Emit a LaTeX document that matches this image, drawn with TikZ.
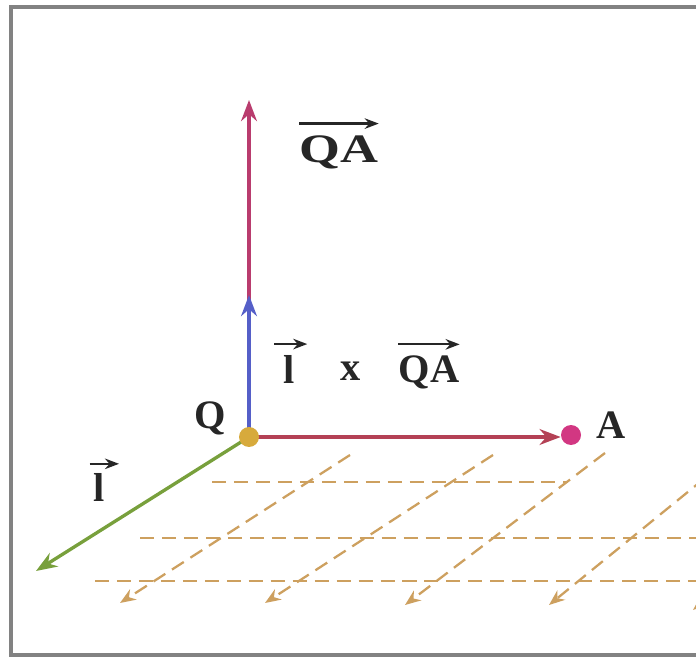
\documentclass[tikz,border=0pt]{standalone}
\usepackage{fontspec}
\setmainfont{Liberation Serif}
\usetikzlibrary{arrows.meta}

\definecolor{rossoV}{RGB}{185,60,110}
\definecolor{rossoH}{RGB}{180,65,85}
\definecolor{bluV}{RGB}{85,95,200}
\definecolor{verdeL}{RGB}{120,160,60}
\definecolor{oroQ}{RGB}{215,170,60}
\definecolor{rosaA}{RGB}{210,55,130}
\definecolor{griglia}{RGB}{205,160,95}
\definecolor{cornice}{RGB}{130,130,130}

\begin{document}
\begin{tikzpicture}[x=0.02cm, y=-0.02cm,
    etich/.style={font=\fontsize{23}{27}\selectfont\bfseries, inner sep=0pt, anchor=base, black!85},
    vett/.style={-{Stealth[length=12pt, width=9pt]}, line width=1.9pt},
    sopra/.style={-{Stealth[length=8pt, width=6pt]}, line width=1.3pt, black!85},
    tratt/.style={dash pattern=on 8pt off 4.5pt, line width=1.3pt, griglia},
    punto/.style={circle, inner sep=0pt, minimum size=0.4cm}]
    \useasboundingbox (0,0) rectangle (696,658);
    \clip (0,0) rectangle (696,658);

    % Cornice
    \draw[cornice, line width=1.8pt] (700,7) -- (11,7) -- (11,655) -- (700,655);

    % Piano tratteggiato (righe orizzontali)
    \draw[tratt] (212,482) -- (567,482);
    \draw[tratt] (140,538) -- (720,538);
    \draw[tratt] (95,581) -- (720,581);

    % Piano tratteggiato (righe oblique, parallele a l)
    \draw[tratt, -{Stealth[length=9pt, width=7pt]}] (350,455) -- (120,603);
    \draw[tratt, -{Stealth[length=9pt, width=7pt]}] (493,455) -- (265,603);
    \draw[tratt, -{Stealth[length=9pt, width=7pt]}] (605,453) -- (405,605);
    \draw[tratt, -{Stealth[length=9pt, width=7pt]}] (705,478) -- (549,605);
    \draw[tratt, -{Stealth[length=9pt, width=7pt]}] (800,520) -- (693,610);

    % Punti Q e A
    \coordinate (Q) at (249,437);
    \coordinate (Vtop) at (249,100);
    \coordinate (Btop) at (249,295);
    \coordinate (Ltip) at (36,571);

    % Vettore QA x l (verticale) e vettore l x QA (blu)
    \draw[vett, rossoV] (Q) -- (Vtop);
    \draw[vett, bluV] (Q) -- (Btop);

    % Vettore l (verde)
    \draw[vett, verdeL] (Q) -- (Ltip);

    % Vettore QA (orizzontale)
    \node[punto, fill=rosaA] (A) at (571,435) {};
    \draw[vett, rossoH] (Q) -- (Q -| A.west);
    \node[punto, fill=oroQ] (Qdot) at (Q) {};

    % Etichette
    \node[etich] (labQ) at (210,428) {Q};
    \node[etich] (labA) at (611,438) {A};

    \node[etich] (topQA) at (339,163) {\scalebox{1.3}[1]{QA}};
    \draw[sopra] ([yshift=7pt]topQA.north west) -- ([yshift=7pt]topQA.north east);

    \node[etich] (midL) at (289,383) {l};
    \draw[sopra] ([shift={(-5pt,6pt)}]midL.north west) -- ([shift={(7pt,6pt)}]midL.north east);
    \node[etich] (per) at (351,380) {x};
    \node[etich] (midQA) at (429,382) {QA};
    \draw[sopra] ([yshift=6pt]midQA.north west) -- ([yshift=6pt]midQA.north east);

    \node[etich] (labL) at (99,501) {l};
    \draw[sopra] ([shift={(-2pt,5pt)}]labL.north west) -- ([shift={(8pt,5pt)}]labL.north east);
\end{tikzpicture}
\end{document}
